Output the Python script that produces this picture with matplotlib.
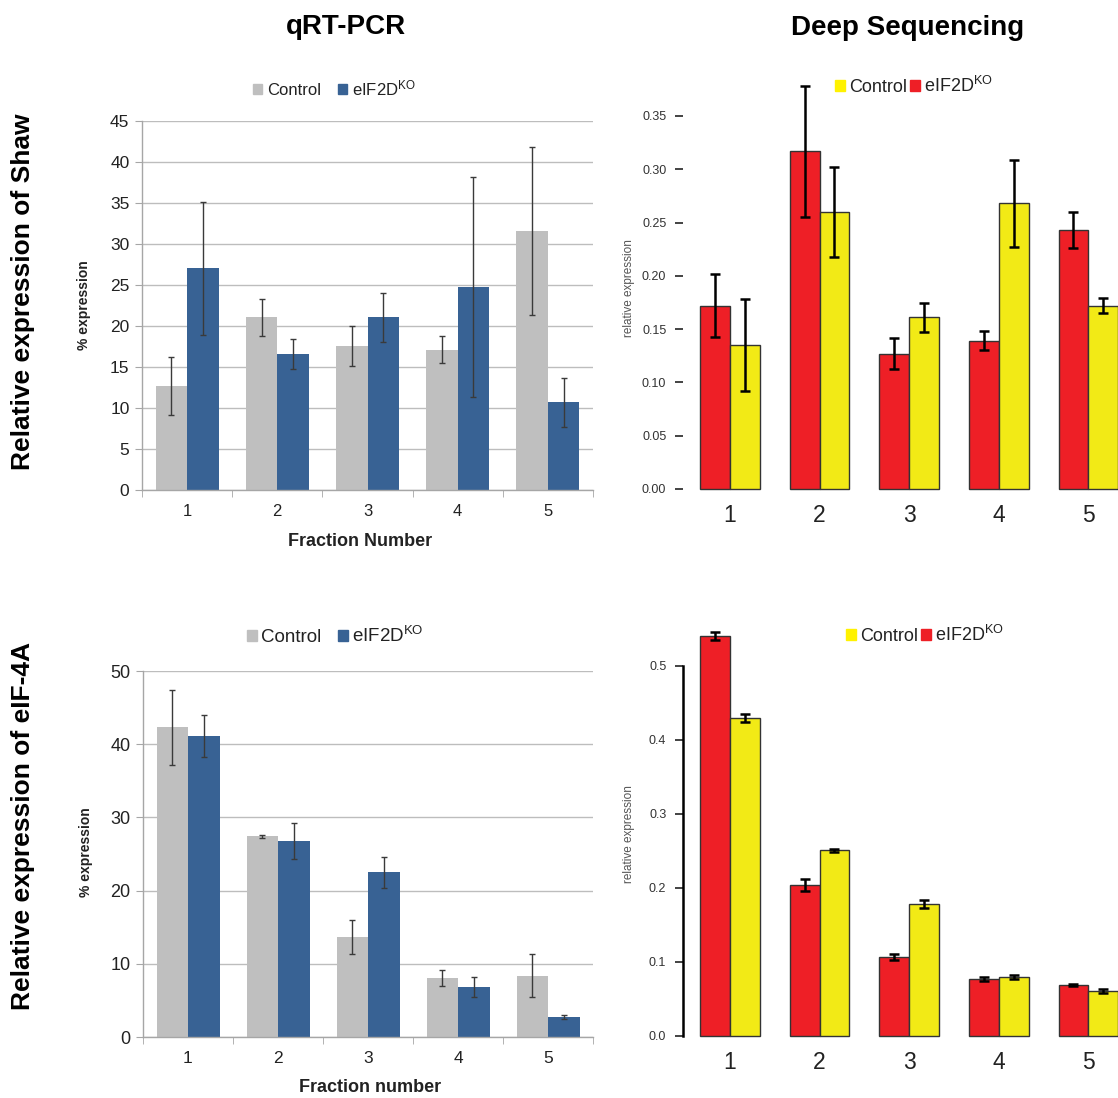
import numpy as np
import matplotlib
matplotlib.use("Agg")
import matplotlib.pyplot as plt
from matplotlib.patches import Patch

plt.rcParams["font.family"] = ["Liberation Sans", "DejaVu Sans"]
plt.rcParams["mathtext.fontset"] = "custom"
plt.rcParams["mathtext.rm"] = "Liberation Sans"
plt.rcParams["mathtext.it"] = "Liberation Sans"

W, H = 1118, 1098

# ---------- data ----------
fractions = ["1", "2", "3", "4", "5"]

# qRT-PCR, Shaw
shaw_ctrl = [12.7, 21.05, 17.6, 17.1, 31.6]
shaw_ctrl_err = [3.55, 2.25, 2.45, 1.65, 10.2]
shaw_ko = [27.05, 16.6, 21.05, 24.75, 10.7]
shaw_ko_err = [8.1, 1.8, 3.0, 13.4, 3.0]

# qRT-PCR, eIF-4A
eif_ctrl = [42.3, 27.4, 13.7, 8.05, 8.4]
eif_ctrl_err = [5.15, 0.25, 2.35, 1.05, 2.9]
eif_ko = [41.1, 26.8, 22.5, 6.8, 2.73]
eif_ko_err = [2.85, 2.5, 2.15, 1.4, 0.23]

# Deep sequencing, Shaw
seq_shaw_ko = [0.172, 0.317, 0.127, 0.139, 0.243]
seq_shaw_ko_err = [0.0295, 0.0615, 0.0148, 0.009, 0.0169]
seq_shaw_ctrl = [0.135, 0.260, 0.161, 0.268, 0.172]
seq_shaw_ctrl_err = [0.043, 0.042, 0.0135, 0.041, 0.0068]

# Deep sequencing, eIF-4A
seq_eif_ko = [0.5405, 0.2036, 0.1072, 0.077, 0.0689]
seq_eif_ko_err = [0.0056, 0.008, 0.004, 0.0023, 0.002]
seq_eif_ctrl = [0.4297, 0.2509, 0.1788, 0.0797, 0.0608]
seq_eif_ctrl_err = [0.006, 0.002, 0.0054, 0.003, 0.003]

GRAY = "#BFBFBF"
BLUE = "#386294"
RED = "#EE1F26"
YELLOW = "#F2EA16"
KO_LABEL = r"eIF2D$^{\mathrm{KO}}$"


def px_axes(fig, x0, y0, x1, y1):
    return fig.add_axes([x0 / W, 1 - y1 / H, (x1 - x0) / W, (y1 - y0) / H])


def fig_text(fig, x, y, s, **kw):
    fig.text(x / W, 1 - y / H, s, ha="center", va="center", **kw)


def excel_panel(ax, ctrl, ctrl_err, ko, ko_err, ymax, step, fs):
    x = np.arange(1, len(fractions) + 1)
    bw = 0.35
    ax.bar(x - bw / 2, ctrl, bw, color=GRAY, zorder=2)
    ax.bar(x + bw / 2, ko, bw, color=BLUE, zorder=2)
    ax.errorbar(x - bw / 2, ctrl, yerr=ctrl_err, fmt="none", ecolor="#3a3a3a",
                elinewidth=1, capsize=2.5, capthick=1, zorder=3)
    ax.errorbar(x + bw / 2, ko, yerr=ko_err, fmt="none", ecolor="#3a3a3a",
                elinewidth=1, capsize=2.5, capthick=1, zorder=3)
    ax.set_xlim(0.5, 5.5)
    ax.set_ylim(0, ymax)
    ax.set_yticks(np.arange(0, ymax + 0.1, step))
    ax.set_xticks(x)
    ax.set_xticklabels(fractions)
    ax.set_xticks(np.arange(0.5, 6, 1), minor=True)
    ax.tick_params(axis="x", which="major", length=0, pad=10, labelsize=fs, labelcolor="#222222")
    ax.tick_params(axis="x", which="minor", length=5, color="#A6A6A6", direction="out")
    ax.tick_params(axis="y", length=5, color="#A6A6A6", labelsize=fs + 0.5, labelcolor="#222222", pad=4)
    ax.yaxis.grid(True, color="#BDBDBD", lw=1)
    ax.set_axisbelow(True)
    for s in ["top", "right"]:
        ax.spines[s].set_visible(False)
    for s in ["left", "bottom"]:
        ax.spines[s].set_color("#A6A6A6")
        ax.spines[s].set_linewidth(1)


def seq_panel(ax, ko, ko_err, ctrl, ctrl_err, ymax, ticks, ticklabels, show_spine):
    g = np.arange(len(fractions))
    red_x = 1.5 + 3 * g
    yel_x = 2.5 + 3 * g
    ax.bar(red_x, ko, 1, color=RED, edgecolor="#333333", lw=1, zorder=2, clip_on=False)
    ax.bar(yel_x, ctrl, 1, color=YELLOW, edgecolor="#333333", lw=1, zorder=2, clip_on=False)
    ax.errorbar(red_x, ko, yerr=ko_err, fmt="none", ecolor="black",
                elinewidth=1.8, capsize=3.5, capthick=1.8, zorder=3, clip_on=False)
    ax.errorbar(yel_x, ctrl, yerr=ctrl_err, fmt="none", ecolor="black",
                elinewidth=1.8, capsize=3.5, capthick=1.8, zorder=3, clip_on=False)
    ax.set_xlim(0.43, 14.99)
    ax.set_ylim(0, ymax)
    ax.set_yticks(ticks)
    ax.set_yticklabels(ticklabels)
    ax.set_xticks(2 + 3 * g)
    ax.set_xticklabels(fractions)
    ax.tick_params(axis="x", length=0, pad=11, labelsize=16.5, labelcolor="#222222")
    ax.tick_params(axis="y", length=6, width=1.2, color="#222222", labelsize=9,
                   labelcolor="#333333", pad=6)
    for s in ["top", "right", "bottom"]:
        ax.spines[s].set_visible(False)
    if show_spine:
        ax.spines["left"].set_linewidth(1.8)
        ax.spines["left"].set_bounds(0, ticks[-1])
    else:
        ax.spines["left"].set_visible(False)


fig = plt.figure(figsize=(W / 100, H / 100), dpi=100)

# column titles and row labels
fig_text(fig, 346, 27, "qRT-PCR", fontsize=20, fontweight="bold")
fig_text(fig, 908, 28, "Deep Sequencing", fontsize=20, fontweight="bold")
fig_text(fig, 23, 292, "Relative expression of Shaw", fontsize=19, fontweight="bold", rotation=90)
fig_text(fig, 23, 826, "Relative expression of eIF-4A", fontsize=19, fontweight="bold", rotation=90)

# top-left
ax1 = px_axes(fig, 142, 121, 593, 490)
excel_panel(ax1, shaw_ctrl, shaw_ctrl_err, shaw_ko, shaw_ko_err, 45, 5, 12)
fig_text(fig, 360, 542, "Fraction Number", fontsize=13, fontweight="bold", color="#222222")
fig_text(fig, 84, 305, "% expression", fontsize=10, fontweight="bold", rotation=90, color="#222222")
ax1.legend(handles=[Patch(color=GRAY, label="Control"), Patch(color=BLUE, label=KO_LABEL)],
           loc="center", bbox_to_anchor=(334 / W, 1 - 88 / H), bbox_transform=fig.transFigure,
           ncol=2, frameon=False, fontsize=12, handlelength=0.55, handleheight=0.55,
           handletextpad=0.3, columnspacing=1.0, labelcolor="#222222")

# bottom-left
ax2 = px_axes(fig, 143, 671, 593, 1037)
excel_panel(ax2, eif_ctrl, eif_ctrl_err, eif_ko, eif_ko_err, 50, 10, 12.5)
fig_text(fig, 370, 1088, "Fraction number", fontsize=13, fontweight="bold", color="#222222")
fig_text(fig, 86, 852, "% expression", fontsize=10, fontweight="bold", rotation=90, color="#222222")
ax2.legend(handles=[Patch(color=GRAY, label="Control"), Patch(color=BLUE, label=KO_LABEL)],
           loc="center", bbox_to_anchor=(335 / W, 1 - 636 / H), bbox_transform=fig.transFigure,
           ncol=2, frameon=False, fontsize=13.5, handlelength=0.55, handleheight=0.55,
           handletextpad=0.2, columnspacing=0.9, labelcolor="#222222")

# top-right
ax3 = px_axes(fig, 683, 116, 1118, 489)
shaw_ticks = np.arange(0, 0.351, 0.05)
seq_panel(ax3, seq_shaw_ko, seq_shaw_ko_err, seq_shaw_ctrl, seq_shaw_ctrl_err, 0.35,
          shaw_ticks, ["%.2f" % v for v in shaw_ticks], False)
fig_text(fig, 629, 288, "relative expression", fontsize=8.5, color="#555555", rotation=90)
ax3.legend(handles=[Patch(color="#FFF200", label="Control"), Patch(color=RED, label=KO_LABEL)],
           loc="center", bbox_to_anchor=(914 / W, 1 - 86 / H), bbox_transform=fig.transFigure,
           ncol=2, frameon=False, fontsize=13, handlelength=0.55, handleheight=0.55,
           handletextpad=0.2, columnspacing=0.2, labelcolor="#222222")

# bottom-right
ax4 = px_axes(fig, 683, 666, 1118, 1036)
eif_ticks = np.arange(0, 0.51, 0.1)
seq_panel(ax4, seq_eif_ko, seq_eif_ko_err, seq_eif_ctrl, seq_eif_ctrl_err, 0.5,
          eif_ticks, ["%.1f" % v for v in eif_ticks], True)
fig_text(fig, 629, 834, "relative expression", fontsize=8.5, color="#555555", rotation=90)
ax4.legend(handles=[Patch(color="#FFF200", label="Control"), Patch(color=RED, label=KO_LABEL)],
           loc="center", bbox_to_anchor=(925 / W, 1 - 635 / H), bbox_transform=fig.transFigure,
           ncol=2, frameon=False, fontsize=13, handlelength=0.55, handleheight=0.55,
           handletextpad=0.2, columnspacing=0.2, labelcolor="#222222")

fig.savefig("out.png", dpi=100)
